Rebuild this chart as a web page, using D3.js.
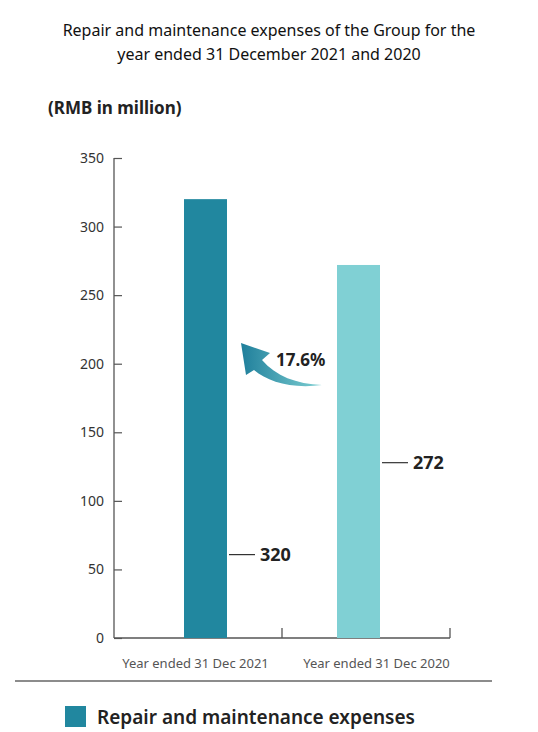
<!DOCTYPE html>
<html><head><meta charset="utf-8">
<script src="https://cdn.jsdelivr.net/npm/d3@7"></script>
<style>
body{margin:0;background:#fff;}
text{font-family:"Noto Sans","Open Sans",sans-serif;}
</style></head>
<body>
<svg id="c" width="538" height="732"></svg>
<script>
const titleLines = ["Repair and maintenance expenses of the Group for the", "year ended 31 December 2021 and 2020"];
const unitLabel = "(RMB in million)";
const categories = ["Year ended 31 Dec 2021", "Year ended 31 Dec 2020"];
const values = [320, 272];
const barColors = ["#21879f", "#80d0d4"];
const yTicks = [0, 50, 100, 150, 200, 250, 300, 350];
const changeLabel = "17.6%";
const legendLabel = "Repair and maintenance expenses";

const svg = d3.select("#c");

// title
svg.append("g").selectAll("text").data(titleLines).join("text")
  .attr("x", 269).attr("y", (d,i)=>36 + i*24)
  .attr("text-anchor","middle").attr("font-size",16).attr("fill","#111")
  .text(d=>d);

svg.append("text").attr("x",48).attr("y",114).attr("font-size",17)
  .attr("font-weight","bold").attr("fill","#222").text(unitLabel);

const y = d3.scaleLinear().domain([0,350]).range([638,158]);
const x = d3.scaleBand().domain(categories).range([107.5,456.5]).paddingInner(0.719).paddingOuter(0.5);
const axisL = 114, axisR = 450;

// y axis
const yAxis = d3.axisRight(y).tickValues(yTicks).tickSize(8).tickFormat("");
const gy = svg.append("g").attr("transform",`translate(${axisL},0)`).call(yAxis);
gy.select(".domain").attr("stroke","#555").attr("stroke-width",1.3).attr("d",`M0,${y(350)}V${y(0)}`);
gy.selectAll(".tick line").attr("stroke","#555").attr("stroke-width",1.2);
svg.append("g").selectAll("text").data(yTicks).join("text")
  .attr("x",104).attr("y",d=>y(d)+5).attr("text-anchor","end")
  .attr("font-size",14).attr("fill","#333").text(d=>d);

// baseline
svg.append("line").attr("x1",axisL).attr("x2",axisR).attr("y1",y(0)).attr("y2",y(0))
  .attr("stroke","#555").attr("stroke-width",1.5);
const dividers = [ (x(categories[0])+x.bandwidth()/2 + x(categories[1])+x.bandwidth()/2)/2, axisR ];
svg.append("g").selectAll("line").data(dividers).join("line")
  .attr("x1",d=>d).attr("x2",d=>d).attr("y1",y(0)-10).attr("y2",y(0))
  .attr("stroke","#555").attr("stroke-width",1.3);

// bars
svg.append("g").selectAll("rect").data(values).join("rect")
  .attr("x",(d,i)=>x(categories[i])).attr("width",x.bandwidth())
  .attr("y",d=>y(d)).attr("height",d=>y(0)-y(d))
  .attr("fill",(d,i)=>barColors[i]);

// value labels
const labelFrac = [0.19, 0.47];
const lg = svg.append("g");
values.forEach((v,i)=>{
  const xr = x(categories[i]) + x.bandwidth();
  const yy = y(v*labelFrac[i]);
  lg.append("line").attr("x1",xr+2).attr("x2",xr+28).attr("y1",yy).attr("y2",yy)
    .attr("stroke","#333").attr("stroke-width",1.2);
  lg.append("text").attr("x",xr+33).attr("y",yy+6).attr("font-size",18)
    .attr("font-weight","bold").attr("fill","#222").text(v);
});

// x labels
svg.append("g").selectAll("text").data(categories).join("text")
  .attr("x",(d,i)=>x(d)+x.bandwidth()/2 + (i===0?-10:18)).attr("y",668)
  .attr("text-anchor","middle").attr("font-size",13).attr("fill","#555").text(d=>d);
svg.append("line").attr("x1",15).attr("x2",492).attr("y1",681).attr("y2",681)
  .attr("stroke","#666").attr("stroke-width",1.3);

// curved arrow
const defs = svg.append("defs");
const grad = defs.append("linearGradient").attr("id","ag").attr("x1","0").attr("x2","1").attr("y1","0").attr("y2","0");
grad.append("stop").attr("offset","0%").attr("stop-color","#1f7f9b");
grad.append("stop").attr("offset","100%").attr("stop-color","#7fd0d3");
svg.append("path")
  .attr("d","M241,343 L270,353 L262,360 C276,376 296,384 322,385 C292,389 268,382 254,370 L246,375 Z")
  .attr("fill","url(#ag)");
svg.append("text").attr("x",276).attr("y",366).attr("font-size",17).attr("font-weight","bold")
  .attr("fill","#222").text(changeLabel);

// legend
svg.append("rect").attr("x",65).attr("y",706).attr("width",21).attr("height",21).attr("fill",barColors[0]);
svg.append("text").attr("x",97).attr("y",724).attr("font-size",19).attr("font-weight","600")
  .attr("fill","#222").text(legendLabel);
</script>
</body></html>
